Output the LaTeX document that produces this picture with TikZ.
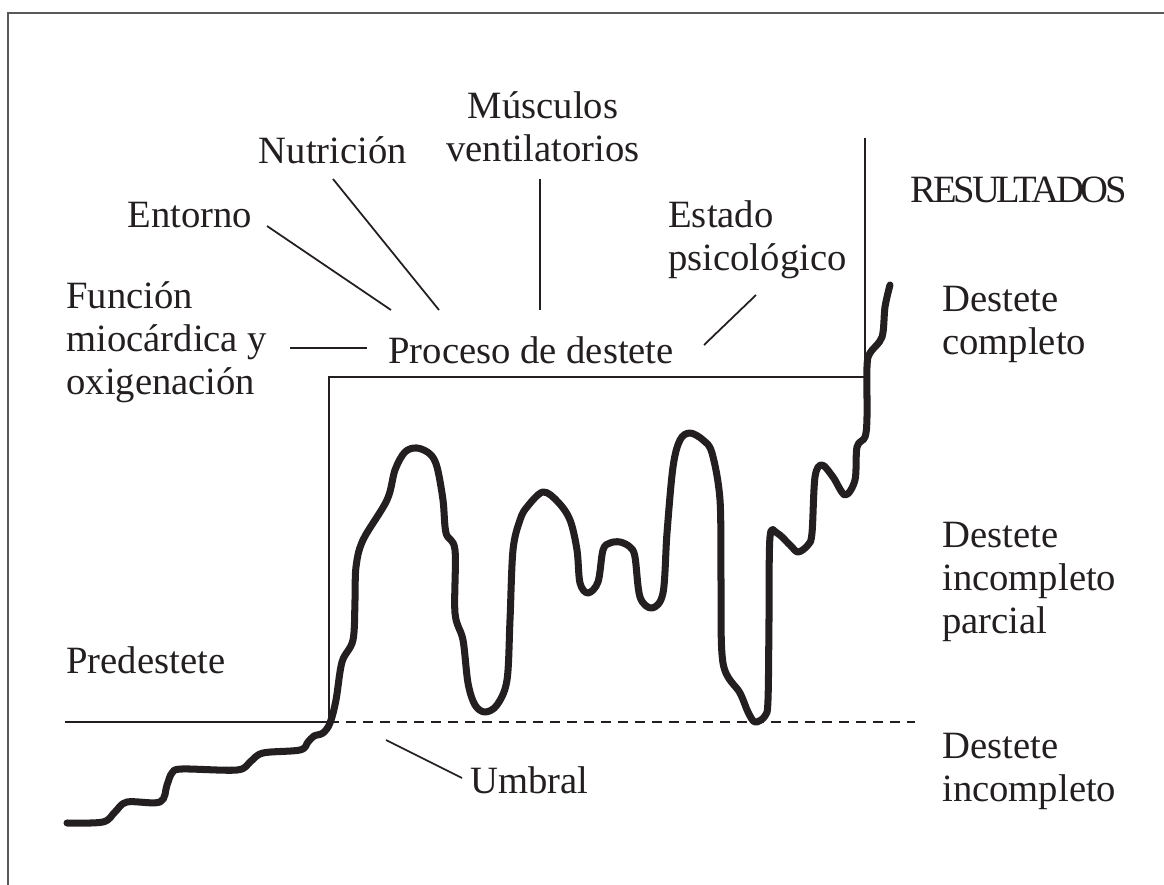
\documentclass[tikz,border=0pt]{standalone}
\usepackage{fontspec}
\setmainfont{Liberation Serif}
\definecolor{tinta}{HTML}{231F20}
\begin{document}
\begin{tikzpicture}[x=0.02cm,y=-0.02cm,
	lbl/.style={font=\fontsize{22}{24.5}\selectfont,inner sep=0pt,text=tinta},
	fino/.style={line width=1pt,tinta}]
	\useasboundingbox (0,0) rectangle (1164,885);
	% marco
	\draw[line width=1.4pt,black!65] (8,885) -- (8,13) -- (1164,13);
	% textos
	\node[lbl,align=center] (musculos) at (543,127) {Músculos\\ventilatorios};
	\node[lbl] (nutricion) at (333,150) {Nutrición};
	\node[lbl] (entorno) at (190,215) {Entorno};
	\node[lbl,align=left,anchor=west] (estado) at (668,240) {Estado\\psicológico};
	\node[lbl,anchor=west] (resultados) at (910,190) {\addfontfeature{LetterSpace=-8}RESULTADOS};
	\node[lbl,align=left,anchor=west] (funcion) at (66,342) {Función\\miocárdica y\\oxigenación};
	\node[lbl,anchor=west] (proceso) at (388,350) {Proceso de destete};
	\node[lbl,align=left,anchor=west] (completo) at (942,324) {Destete\\completo};
	\node[lbl,align=left,anchor=west] (parcial) at (942,582) {Destete\\incompleto\\parcial};
	\node[lbl,anchor=west] (predestete) at (66,660) {Predestete};
	\node[lbl,align=left,anchor=west] (incompleto) at (942,771) {Destete\\incompleto};
	\node[lbl,anchor=west] (umbral) at (470,780) {Umbral};
	% trazos hacia el proceso
	\coordinate (e1) at (267,226); \coordinate (e2) at (391,310);
	\coordinate (n1) at (333,179); \coordinate (n2) at (439,310);
	\coordinate (m1) at (540,179); \coordinate (m2) at (540,310);
	\coordinate (s1) at (756,295); \coordinate (s2) at (704,345);
	\coordinate (f1) at (290,348); \coordinate (f2) at (367,348);
	\coordinate (u1) at (386,740); \coordinate (u2) at (462,778);
	\draw[fino] (e1) -- (e2);
	\draw[fino] (n1) -- (n2);
	\draw[fino] (m1) -- (m2);
	\draw[fino] (s1) -- (s2);
	\draw[fino] (f1) -- (f2);
	\draw[fino] (u1) -- (u2);
	% umbral y caja
	\coordinate (t0) at (65,722); \coordinate (t1) at (329,722); \coordinate (t2) at (915,722);
	\draw[fino] (t0) -- (t1) -- (329,377) -- (865,377);
	\draw[fino] (865,138) -- (865,377);
	\draw[fino,dash pattern=on 0.2cm off 0.14cm] (t1) -- (t2);
	% curva
	\draw[line width=4pt,tinta,line cap=round,line join=round,smooth,tension=0.55] plot coordinates {
		(67,823) (103,822) (115,812) (127,802) (160,802) (167,785) (172,773) (182,769)
		(237,770) (250,762) (263,753) (300,750) (308,742) (314,736) (323,733) (330,723)
		(336,700) (342,662) (353,640) (355,600) (356,567) (363,540) (387,500) (395,470)
		(405,452) (417,448) (430,454) (437,467) (443,500) (446,533) (455,550) (455,613)
		(463,640) (468,683) (475,705) (485,712) (497,705) (507,680) (510,620) (513,550)
		(520,520) (527,507) (543,492) (558,502) (570,520) (577,550) (580,583) (588,593)
		(598,582) (603,550) (610,543) (620,542) (630,547) (635,557) (640,597) (652,608)
		(663,593) (667,533) (673,467) (680,440) (690,433) (703,440) (712,453) (720,500)
		(721,580) (723,663) (740,693) (748,712) (755,722) (765,716) (768,700) (769,620)
		(770,537) (777,533) (790,545) (798,552) (808,545) (812,533) (815,477) (822,465)
		(833,477) (845,495) (855,480) (857,447) (865,437) (867,417) (867,367) (870,353)
		(882,337) (885,307) (890,285)};
\end{tikzpicture}
\end{document}
